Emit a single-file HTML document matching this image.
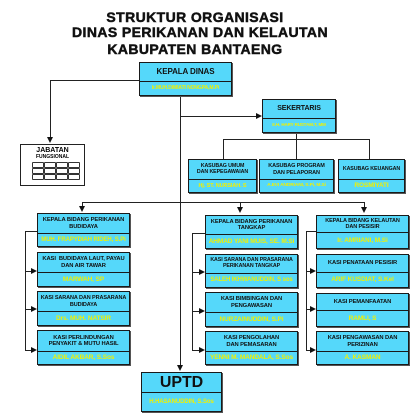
<!DOCTYPE html>
<html><head><meta charset="utf-8"><style>
body{margin:0;width:418px;height:418px;background:#fff;position:relative;overflow:hidden;font-family:"Liberation Sans",Arial,sans-serif}
.ttl{position:absolute;left:0;width:390px;text-align:center;font-weight:bold;font-size:14px;color:#111;letter-spacing:0.4px;-webkit-text-stroke:0.5px #111}
.b{position:absolute;background:#55d8fa;border:1.5px solid #1a1a1a;box-sizing:border-box;box-shadow:1px 1px 0 #555}
.b .t,.b .n{position:absolute;left:0;right:0;display:flex;align-items:center;justify-content:center;text-align:center;font-weight:bold;line-height:1.1;white-space:nowrap;letter-spacing:-0.1px}
.b .t{top:0;font-size:5.8px;color:#111}
.b .n{bottom:0;font-size:6.5px;color:#f2f000;border-top:1.5px solid #1a1a1a}
.l{position:absolute;background:#222}
.ad{position:absolute;width:0;height:0;border-left:3px solid transparent;border-right:3px solid transparent;border-top:6px solid #111}
.ar{position:absolute;width:0;height:0;border-top:3px solid transparent;border-bottom:3px solid transparent;border-left:6px solid #111}
.g{position:absolute;width:10px;height:4px;border:1px solid #333;border-radius:1px}
</style></head><body>
<div class="ttl" style="top:9px">STRUKTUR ORGANISASI</div>
<div class="ttl" style="top:24px;left:5px">DINAS PERIKANAN DAN KELAUTAN</div>
<div class="ttl" style="top:41px">KABUPATEN BANTAENG</div>

<div class="l" style="left:50px;top:80px;width:90px;height:1px"></div>
<div class="l" style="left:50px;top:80px;width:1px;height:58px"></div>
<div class="ad" style="left:47px;top:137px"></div>
<div class="l" style="left:180px;top:96px;width:1px;height:270px"></div>
<div class="ad" style="left:177px;top:365px"></div>
<div class="l" style="left:180px;top:116px;width:78px;height:1px"></div>
<div class="ar" style="left:256px;top:113px"></div>
<div class="l" style="left:223px;top:139px;width:146px;height:1px"></div>
<div class="l" style="left:223px;top:139px;width:1px;height:20px"></div>
<div class="l" style="left:296px;top:133px;width:1px;height:26px"></div>
<div class="l" style="left:369px;top:139px;width:1px;height:20px"></div>
<div class="l" style="left:82px;top:202px;width:282px;height:1px"></div>
<div class="l" style="left:82px;top:202px;width:1px;height:5px"></div>
<div class="ad" style="left:79px;top:206px"></div>
<div class="l" style="left:240px;top:202px;width:1px;height:6px"></div>
<div class="ad" style="left:237px;top:207px"></div>
<div class="l" style="left:364px;top:202px;width:1px;height:6px"></div>
<div class="ad" style="left:361px;top:207px"></div>
<div class="l" style="left:25px;top:231px;width:12px;height:1px"></div>
<div class="l" style="left:25px;top:231px;width:1px;height:119px"></div>
<div class="l" style="left:25px;top:271px;width:8px;height:1px"></div><div class="ar" style="left:31px;top:268px"></div>
<div class="l" style="left:25px;top:309px;width:8px;height:1px"></div><div class="ar" style="left:31px;top:306px"></div>
<div class="l" style="left:25px;top:350px;width:8px;height:1px"></div><div class="ar" style="left:31px;top:347px"></div>
<div class="l" style="left:192px;top:233px;width:13px;height:1px"></div>
<div class="l" style="left:192px;top:233px;width:1px;height:117px"></div>
<div class="l" style="left:192px;top:272px;width:8px;height:1px"></div><div class="ar" style="left:199px;top:269px"></div>
<div class="l" style="left:192px;top:311px;width:8px;height:1px"></div><div class="ar" style="left:199px;top:308px"></div>
<div class="l" style="left:192px;top:350px;width:8px;height:1px"></div><div class="ar" style="left:199px;top:347px"></div>
<div class="l" style="left:306px;top:231px;width:10px;height:1px"></div>
<div class="l" style="left:306px;top:231px;width:1px;height:119px"></div>
<div class="l" style="left:306px;top:271px;width:5px;height:1px"></div><div class="ar" style="left:310px;top:268px"></div>
<div class="l" style="left:306px;top:309px;width:5px;height:1px"></div><div class="ar" style="left:310px;top:306px"></div>
<div class="l" style="left:306px;top:350px;width:5px;height:1px"></div><div class="ar" style="left:310px;top:347px"></div>

<div style="position:absolute;left:20px;top:144px;width:65px;height:42px;border:1.5px solid #222;box-sizing:border-box;background:#fff">
<div style="text-align:center;font-weight:bold;font-size:7px;line-height:7px;margin-top:2px">JABATAN</div>
<div style="text-align:center;font-weight:bold;font-size:5px;line-height:6px">FUNGSIONAL</div>
</div>
<div class="g" style="left:32px;top:162px"></div><div class="g" style="left:44px;top:162px"></div><div class="g" style="left:56px;top:162px"></div><div class="g" style="left:68px;top:162px"></div>
<div class="g" style="left:32px;top:168px"></div><div class="g" style="left:44px;top:168px"></div><div class="g" style="left:56px;top:168px"></div><div class="g" style="left:68px;top:168px"></div>
<div class="g" style="left:32px;top:174px"></div><div class="g" style="left:44px;top:174px"></div><div class="g" style="left:56px;top:174px"></div><div class="g" style="left:68px;top:174px"></div>

<div class="b" style="left:139px;top:62px;width:93px;height:34px"><div class="t" style="height:18px;font-size:8px">KEPALA DINAS</div><div class="n" style="top:18px;font-size:5px">Ir.MUH.DIMIATI NONGPA,M.Pi</div></div>
<div class="b" style="left:262px;top:99px;width:74px;height:34px"><div class="t" style="height:18px;font-size:7px">SEKERTARIS</div><div class="n" style="top:18px;font-size:4.5px">Ir.H. HARY RUSTAM.T, MM</div></div>

<div class="b" style="left:188px;top:159px;width:69px;height:34px"><div class="t" style="height:19px;font-size:5.3px">KASUBAG UMUM<br>DAN KEPEGAWAIAN</div><div class="n" style="top:19px;font-size:5.5px">Hj. ST. NURSIAH. S</div></div>
<div class="b" style="left:259px;top:159px;width:75px;height:34px"><div class="t" style="height:19px;font-size:5.5px">KASUBAG PROGRAM<br>DAN PELAPORAN</div><div class="n" style="top:19px;font-size:4.8px">A.EVI ANDRIANI, S.Pi, M.Si</div></div>
<div class="b" style="left:338px;top:159px;width:67px;height:34px"><div class="t" style="height:19px;font-size:5.3px">KASUBAG KEUANGAN</div><div class="n" style="top:19px;font-size:6.5px">ROSMIYATI</div></div>

<div class="b" style="left:37px;top:213px;width:93px;height:34px"><div class="t" style="height:19px">KEPALA BIDANG PERIKANAN<br>BUDIDAYA</div><div class="n" style="top:19px;font-size:6px">MUH. FRAPYDIAH RIDEH, S.Pi</div></div>
<div class="b" style="left:37px;top:252px;width:93px;height:35px"><div class="t" style="height:19px">KASI&nbsp; BUDIDAYA LAUT, PAYAU<br>DAN AIR TAWAR</div><div class="n" style="top:19px">MARWAH, SP</div></div>
<div class="b" style="left:37px;top:291px;width:93px;height:35px"><div class="t" style="height:19px;font-size:5.5px">KASI SARANA DAN PRASARANA<br>BUDIDAYA</div><div class="n" style="top:19px">Drs. MUH. NATSIR</div></div>
<div class="b" style="left:37px;top:330px;width:93px;height:35px"><div class="t" style="height:20px">KASI PERLINDUNGAN<br>PENYAKIT &amp; MUTU HASIL</div><div class="n" style="top:20px">AIDIL AKBAR, S.Sos</div></div>

<div class="b" style="left:205px;top:215px;width:93px;height:34px"><div class="t" style="height:18px">KEPALA BIDANG PERIKANAN<br>TANGKAP</div><div class="n" style="top:18px">AHMAD YANI MUIS, SE. M.Si</div></div>
<div class="b" style="left:205px;top:254px;width:93px;height:34px"><div class="t" style="height:18px;font-size:5.3px">KASI SARANA DAN PRASARANA<br>PERIKANAN TANGKAP</div><div class="n" style="top:18px;font-size:6px">SALEH IKHWANUDDIN, S sos</div></div>
<div class="b" style="left:205px;top:292px;width:93px;height:35px"><div class="t" style="height:19px">KASI BIMBINGAN DAN<br>PENGAWASAN</div><div class="n" style="top:19px">NURZAINUDDIN, S.Pi</div></div>
<div class="b" style="left:205px;top:331px;width:93px;height:34px"><div class="t" style="height:19px">KASI PENGOLAHAN<br>DAN PEMASARAN</div><div class="n" style="top:19px">YENNI M. MANDALA, S.Sos</div></div>

<div class="b" style="left:316px;top:215px;width:93px;height:34px"><div class="t" style="height:16px;font-size:5.5px">KEPALA BIDANG KELAUTAN<br>DAN PESISIR</div><div class="n" style="top:16px">Ir. AMRIANI, M.Si</div></div>
<div class="b" style="left:316px;top:254px;width:93px;height:34px"><div class="t" style="height:17px">KASI PENATAAN PESISIR</div><div class="n" style="top:17px">ARIF KUSDIAT, S.Kel</div></div>
<div class="b" style="left:316px;top:293px;width:93px;height:34px"><div class="t" style="height:16px">KASI PEMANFAATAN</div><div class="n" style="top:16px">RAMLI, S</div></div>
<div class="b" style="left:316px;top:331px;width:93px;height:34px"><div class="t" style="height:19px">KASI PENGAWASAN DAN<br>PERIZINAN</div><div class="n" style="top:19px">A. KASMAN</div></div>

<div class="b" style="left:141px;top:372px;width:81px;height:40px"><div class="t" style="height:19px;font-size:16px">UPTD</div><div class="n" style="top:19px;font-size:6px">H.HASANUDDIN, S.Sos</div></div>
</body></html>
